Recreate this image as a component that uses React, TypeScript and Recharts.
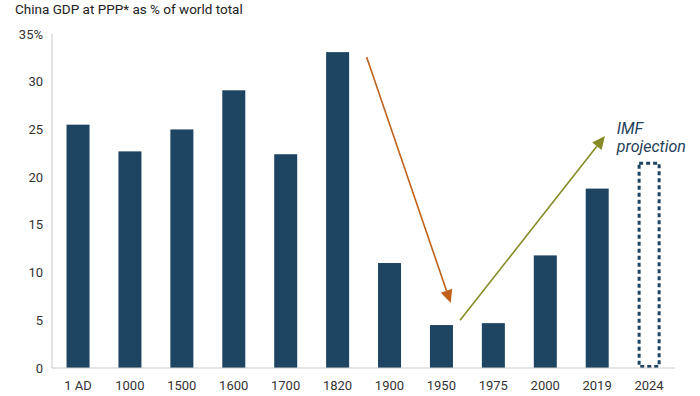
import React from 'react';
import { BarChart, Bar, XAxis, YAxis, Cell, ReferenceLine, ReferenceDot } from 'recharts';

const categories = ['1 AD', '1000', '1500', '1600', '1700', '1820', '1900', '1950', '1975', '2000', '2019', '2024'];
const shares = [25.5, 22.7, 25.0, 29.1, 22.4, 33.1, 11.0, 4.5, 4.7, 11.8, 18.8, 21.6];
const projected = [false, false, false, false, false, false, false, false, false, false, false, true];
const yTicks = [0, 5, 10, 15, 20, 25, 30, 35];

// arrow annotations in data space (x: band index position, y: percent)
const declineArrow = { x1: 6.06, y1: 32.6, x2: 7.68, y2: 6.8 };
const riseArrow = { x1: 7.86, y1: 5.0, x2: 10.65, y2: 24.3 };
const imfLabel = { x: 10.88, y: 24.55 };

const data = categories.map((c, i) => ({ name: c, pos: i + 0.5, value: shares[i], projected: projected[i] }));

const BAR = '#1d4460';
const FONT = 'Roboto, "Noto Sans", sans-serif';

function makeArrow(color: string) {
  return (props: any) => {
    const { x1, y1, x2, y2 } = props;
    const dx = x2 - x1;
    const dy = y2 - y1;
    const len = Math.sqrt(dx * dx + dy * dy);
    const ux = dx / len;
    const uy = dy / len;
    const headLen = 13;
    const headW = 6;
    const bx = x2 - ux * headLen;
    const by = y2 - uy * headLen;
    const px = -uy;
    const py = ux;
    const pts = `${x2},${y2} ${bx + px * headW},${by + py * headW} ${bx - px * headW},${by - py * headW}`;
    return (
      <g>
        <line x1={x1} y1={y1} x2={bx} y2={by} stroke={color} strokeWidth={1.6} />
        <polygon points={pts} fill={color} />
      </g>
    );
  };
}

const ImfText = (props: any) => {
  const { cx, cy } = props;
  return (
    <text x={cx} y={cy} fill="#1f3f5b" fontFamily={FONT} fontStyle="italic" fontSize={16}>
      <tspan x={cx} dy={0}>IMF</tspan>
      <tspan x={cx} dy={18}>projection</tspan>
    </text>
  );
};

const BarShape = (props: any) => {
  const { x, y, width, height, payload } = props;
  if (payload && payload.projected) {
    return (
      <rect
        x={x + 1.5}
        y={y + 1.5}
        width={width - 3}
        height={height - 3}
        fill="none"
        stroke={BAR}
        strokeWidth={3}
        strokeDasharray="4 3"
      />
    );
  }
  return <rect x={x} y={y} width={width} height={height} fill={BAR} />;
};

export default function App() {
  return (
    <div style={{ position: 'absolute', left: 0, top: 0, width: 700, height: 396, background: '#fff' }}>
      <div
        style={{
          position: 'absolute',
          left: 15,
          top: 1,
          fontFamily: FONT,
          fontSize: 13.5,
          color: '#222',
          whiteSpace: 'nowrap',
        }}
      >
        China GDP at PPP* as % of world total
      </div>
      <BarChart
        width={700}
        height={396}
        data={data}
        margin={{ top: 34, right: 25, left: 0, bottom: 0 }}
        barCategoryGap="28%"
      >
        <XAxis
          dataKey="name"
          tickLine={false}
          axisLine={{ stroke: '#c8c8c8' }}
          tick={{ fill: '#333', fontSize: 13, fontFamily: FONT }}
          tickSize={0}
          tickMargin={13}
          height={28}
          interval={0}
        />
        <XAxis
          xAxisId="num"
          dataKey="pos"
          type="number"
          domain={[0, 12]}
          allowDataOverflow={true}
          padding={{ left: 0, right: 0 }}
          hide
        />
        <YAxis
          domain={[0, 35]}
          ticks={yTicks}
          tickLine={false}
          axisLine={{ stroke: '#c8c8c8' }}
          tick={{ fill: '#333', fontSize: 13, fontFamily: FONT }}
          tickSize={0}
          tickMargin={9}
          width={52}
          interval={0}
          tickFormatter={(v: number) => (v === 35 ? '35%' : String(v))}
        />
        <Bar dataKey="value" isAnimationActive={false} shape={BarShape}>
          {data.map((d, i) => (
            <Cell key={i} fill={d.projected ? 'none' : BAR} />
          ))}
        </Bar>
        <ReferenceLine
          xAxisId="num"
          ifOverflow="visible"
          segment={[
            { x: declineArrow.x1, y: declineArrow.y1 },
            { x: declineArrow.x2, y: declineArrow.y2 },
          ]}
          stroke="#c0601a"
          shape={makeArrow('#c0601a')}
        />
        <ReferenceLine
          xAxisId="num"
          ifOverflow="visible"
          segment={[
            { x: riseArrow.x1, y: riseArrow.y1 },
            { x: riseArrow.x2, y: riseArrow.y2 },
          ]}
          stroke="#858b26"
          shape={makeArrow('#858b26')}
        />
        <ReferenceDot
          xAxisId="num"
          x={imfLabel.x}
          y={imfLabel.y}
          r={0}
          ifOverflow="visible"
          shape={ImfText}
        />
      </BarChart>
    </div>
  );
}
